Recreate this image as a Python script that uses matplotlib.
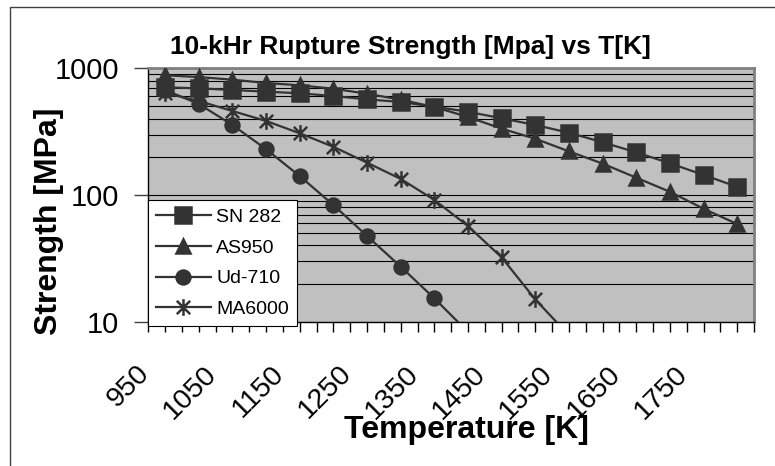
import numpy as np
import matplotlib
matplotlib.use('Agg')
import matplotlib.pyplot as plt
from matplotlib.path import Path
from matplotlib.patches import Rectangle
from matplotlib.ticker import LogLocator, NullFormatter, FixedLocator
import matplotlib.transforms as mtransforms

plt.rcParams['font.family'] = ['Liberation Sans', 'DejaVu Sans']

temps = [950, 1000, 1050, 1100, 1150, 1200, 1250, 1300, 1350,
         1400, 1450, 1500, 1550, 1600, 1650, 1700, 1750, 1800]
sn282 = [708, 695, 674, 654, 635, 604, 569, 542, 498,
         454, 403, 357, 310, 261, 217, 178, 144, 116]
as950 = [881, 853, 813, 766, 734, 690, 630, 565, 495,
         413, 334, 278, 221, 177, 137, 106, 78, 59]
ud710 = [674, 523, 357, 230, 141, 83.4, 47.5, 27.2, 15.3, 8.3]
ma6000 = [638, 552, 460, 384, 307, 240, 180, 134, 91.4,
          56.9, 32.2, 15.0, 7.8]
labels = ['SN 282', 'AS950', 'Ud-710', 'MA6000']

dark = '#333333'

# asterisk marker like the spreadsheet one: vertical bar plus an X
star = Path([(0, -1), (0, 1), (-0.8, -0.8), (0.8, 0.8), (-0.8, 0.8), (0.8, -0.8)],
            [Path.MOVETO, Path.LINETO] * 3)

fig = plt.figure(figsize=(7.75, 4.66), dpi=100)
ax = fig.add_axes([148.3 / 775, 1 - 321.7 / 466, (754 - 148.3) / 775, (321.7 - 68.3) / 466])
ax.set_facecolor('#c0c0c0')

idx = np.arange(len(temps))
series = [sn282, as950, ud710, ma6000]
markers = ['s', '^', 'o', star]
sizes = [11, 10.5, 10, 12]
for name, vals, mk, ms in zip(labels, series, markers, sizes):
    ax.plot(idx[:len(vals)], vals, color=dark, lw=1.6, marker=mk, ms=ms,
            mfc=dark, mec=dark, mew=1.8, label=name, zorder=3)

ax.set_yscale('log')
ax.set_ylim(10, 1000)
ax.set_xlim(-0.5, len(temps) - 0.5)

ax.yaxis.set_minor_locator(LogLocator(base=10, subs=np.arange(2, 10)))
ax.yaxis.set_minor_formatter(NullFormatter())
ax.grid(axis='y', which='both', color='black', lw=0.8, zorder=1)
ax.set_axisbelow(True)
ax.set_yticks([10, 100, 1000])
ax.set_yticklabels(['10', '100', '1000'])
ax.tick_params(axis='y', which='major', direction='out', length=10, width=1,
               pad=11, labelsize=21, color='#404040')
ax.tick_params(axis='y', which='minor', length=0)

major_x = idx[::2]
ax.set_xticks(major_x)
ax.set_xticklabels([str(t) for t in temps[::2]], rotation=45, ha='right',
                   va='top', rotation_mode='anchor')
ax.xaxis.set_minor_locator(FixedLocator(np.arange(-0.5, len(temps), 0.5)))
ax.tick_params(axis='x', which='both', direction='out', length=7, width=1,
               color='black', pad=21, labelsize=20.5)
shift = mtransforms.ScaledTranslation(-0.29, 0, fig.dpi_scale_trans)
for lab in ax.get_xticklabels():
    lab.set_transform(lab.get_transform() + shift)

for s in ['left', 'bottom']:
    ax.spines[s].set_color('black')
    ax.spines[s].set_linewidth(1)
for s in ['top', 'right']:
    ax.spines[s].set_color('#808080')
    ax.spines[s].set_linewidth(2)

leg = ax.legend(loc='lower left', bbox_to_anchor=(0, -0.017), fontsize=14,
                frameon=True, fancybox=False, framealpha=1, edgecolor='black',
                borderaxespad=0, handlelength=2.8, handletextpad=0.3,
                labelspacing=0.68, borderpad=0.4)
leg.get_frame().set_linewidth(0.8)

fig.text(410 / 775, 1 - 47 / 466, '10-kHr Rupture Strength [Mpa] vs T[K]',
         ha='center', va='center', fontsize=19, fontweight='bold')
fig.text(49 / 775, 1 - 221 / 466, 'Strength [MPa]', rotation=90,
         ha='center', va='center', fontsize=23, fontweight='bold')
fig.text(466 / 775, 1 - 430 / 466, 'Temperature [K]',
         ha='center', va='center', fontsize=23, fontweight='bold')

fig.patches.append(Rectangle((10 / 775, -0.1), 1.2, 1.1 - 7 / 466,
                             transform=fig.transFigure, fill=False,
                             edgecolor='#404040', lw=1))

fig.savefig('out.png', dpi=100)
